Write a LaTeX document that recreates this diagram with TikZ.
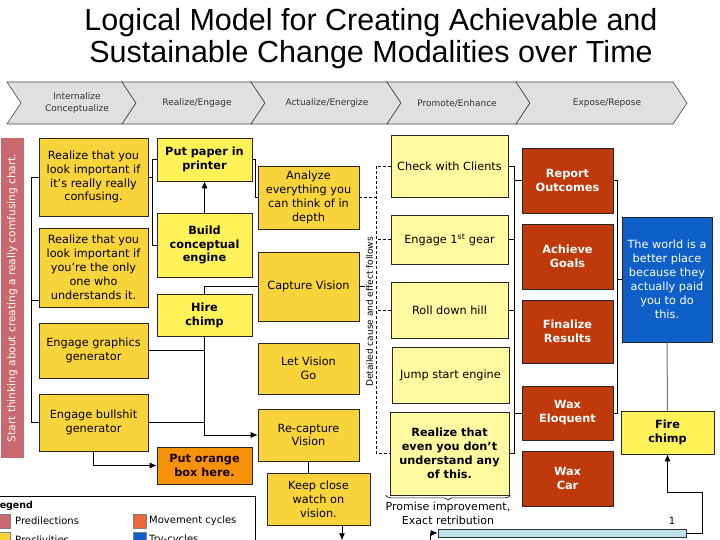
\documentclass[tikz,border=0pt]{standalone}
\usepackage{fontspec}
\setmainfont{DejaVu Sans}
\newfontfamily\titlefont{Liberation Sans}
\usetikzlibrary{arrows.meta,decorations.pathreplacing,calc}
\definecolor{gold}{RGB}{248,212,58}
\definecolor{lemon}{RGB}{254,242,88}
\definecolor{paley}{RGB}{254,250,160}
\definecolor{redbox}{RGB}{192,57,10}
\definecolor{orangebox}{RGB}{245,146,10}
\definecolor{bluebox}{RGB}{14,95,200}
\definecolor{rose}{RGB}{201,104,110}
\definecolor{movecol}{RGB}{238,102,62}
\definecolor{lightbar}{RGB}{190,226,234}
\definecolor{chevfill}{RGB}{224,224,224}
\definecolor{chevline}{RGB}{70,70,70}
\begin{document}
\begin{tikzpicture}[x=1pt,y=-1pt,
  box/.style={draw=black!85, line width=0.6pt, align=center, inner sep=1pt,
    font=\fontsize{11.3}{13.9}\selectfont},
  gbox/.style={box, fill=gold},
  lbox/.style={box, fill=lemon, font=\bfseries\fontsize{11.3}{13.9}\selectfont},
  pbox/.style={box, fill=paley},
  rbox/.style={box, fill=redbox, text=white, font=\bfseries\fontsize{11.3}{13.9}\selectfont},
  ln/.style={draw=black, line width=0.8pt},
  arr/.style={-{Latex[length=7pt,width=6pt]}},
  dsh/.style={draw=black, line width=0.7pt, dash pattern=on 3pt off 2pt},
  chev/.style={fill=chevfill, draw=chevline, line width=0.6pt},
  chevlab/.style={font=\fontsize{9}{11.5}\selectfont, align=center, text=black!80},
  sw/.style={draw=black!50, line width=0.4pt, inner sep=0},
  legtext/.style={anchor=west, inner sep=0, font=\fontsize{10}{12}\selectfont}
]
\fill[white] (0,0) rectangle (720,540);
\useasboundingbox (0,0) rectangle (720,540);

% title
\node[font=\titlefont\fontsize{30.5}{32}\selectfont, anchor=base] (t1) at (371,31) {Logical Model for Creating Achievable and};
\node[font=\titlefont\fontsize{30.5}{32}\selectfont, anchor=base] (t2) at (371,63) {Sustainable Change Modalities over Time};

% chevrons
\foreach \a/\b in {7/122,122/251,251/387,387/516,516/673}
  \draw[chev] (\a,82) -- (\b,82) -- (\b+14,103) -- (\b,124) -- (\a,124) -- (\a+14,103) -- cycle;
\node[chevlab] (h1) at (77,103) {Internalize\\Conceptualize};
\node[chevlab] (h2) at (197,103) {Realize/Engage};
\node[chevlab] (h3) at (327,103) {Actualize/Energize};
\node[chevlab] (h4) at (457,103) {Promote/Enhance};
\node[chevlab] (h5) at (607,103) {Expose/Repose};

% left bar
\node[fill=rose, minimum width=23, minimum height=320, inner sep=0] (leftbar) at (12.5,298) {};
\node[rotate=90, text=white, font=\fontsize{10.6}{12}\selectfont] (lefttext) at (leftbar.center) {Start thinking about creating a really comfusing chart.};

% column 1
\node[gbox, minimum width=109, minimum height=78] (A) at (93.5,177) {Realize that you\\look important if\\it’s really really\\confusing.};
\node[gbox, minimum width=109, minimum height=79] (B) at (93.5,267.5) {Realize that you\\look important if\\you’re the only\\one who\\understands it.};
\node[gbox, minimum width=109, minimum height=55] (C) at (93.5,350.5) {Engage graphics\\generator};
\node[gbox, minimum width=109, minimum height=57] (D) at (93.5,422.5) {Engage bullshit\\generator};

% column 2
\node[lbox, minimum width=95, minimum height=43] (paper) at (204.5,159.5) {Put paper in\\printer};
\node[lbox, minimum width=95, minimum height=64] (build) at (204.5,245) {Build\\conceptual\\engine};
\node[lbox, minimum width=95, minimum height=42] (hire) at (204.5,315) {Hire\\chimp};
\node[lbox, fill=orangebox, text=black!90!red, minimum width=95, minimum height=37] (orange) at (204.5,465.5) {Put orange\\box here.};

% column 3
\node[gbox, minimum width=101, minimum height=63] (analyze) at (308.5,197.5) {Analyze\\everything you\\can think of in\\depth};
\node[gbox, minimum width=101, minimum height=69] (capture) at (308.5,286.5) {Capture Vision};
\node[gbox, minimum width=101, minimum height=51] (letgo) at (308.5,368.5) {Let Vision\\Go};
\node[gbox, minimum width=101, minimum height=52] (recapture) at (308.5,435) {Re-capture\\Vision};
\node[gbox, minimum width=103, minimum height=52] (keep) at (318.5,499) {Keep close\\watch on\\vision.};

% column 4
\node[pbox, minimum width=117, minimum height=62] (check) at (449.5,166) {Check with Clients};
\node[pbox, minimum width=117, minimum height=49] (engage) at (449.5,239.5) {Engage 1\textsuperscript{st} gear};
\node[pbox, minimum width=117, minimum height=56] (roll) at (449.5,310) {Roll down hill};
\node[pbox, minimum width=117, minimum height=56] (jump) at (450.5,375) {Jump start engine};
\node[pbox, font=\bfseries\fontsize{11.3}{13.9}\selectfont, minimum width=119, minimum height=83] (realize2) at (449.5,453.5) {Realize that\\even you don’t\\understand any\\of this.};

% column 5
\node[rbox, minimum width=91, minimum height=65] (report) at (567.5,180.5) {Report\\Outcomes};
\node[rbox, minimum width=91, minimum height=65] (achieve) at (567.5,256.5) {Achieve\\Goals};
\node[rbox, minimum width=91, minimum height=63] (finalize) at (567.5,331.5) {Finalize\\Results};
\node[rbox, minimum width=91, minimum height=54] (waxelo) at (567.5,413) {Wax\\Eloquent};
\node[rbox, minimum width=91, minimum height=55] (waxcar) at (567.5,478.5) {Wax\\Car};

% right
\node[box, fill=bluebox, text=white, minimum width=90, minimum height=125] (blue) at (667,279.5) {The world is a\\better place\\because they\\actually paid\\you to do\\this.};
\node[lbox, minimum width=93, minimum height=43] (fire) at (667.5,432.5) {Fire\\chimp};

% bottom bar
\node[draw=black!80, line width=0.6pt, fill=lightbar, minimum width=248, minimum height=8, inner sep=0] (lbar) at (562,533) {};
\node[font=\fontsize{10}{12}\selectfont] (one) at (672,521) {1};

% connectors: left bracket
\draw[ln] (A.west) -- ++(-7,0) coordinate (lb) -- (lb |- D.west) -- (D.west);
\coordinate (bt) at (32,300);
\draw[ln] (bt) -- (bt -| B.west);
% col1 -> col2 bracket
\draw[ln] (A.east) -- ++(5,0);
\draw[ln] (paper.west) -- ++(-4,0) |- (build.west);
\draw[ln, arr] (build.north) -- (paper.south);
\draw[ln] (paper.east) -- ++(3,0) |- (analyze.west);
\draw[ln] (capture.west) -| (hire.north);
\draw[ln, arr] (hire.south) |- (recapture.west);
\draw[ln] (C.east) -- (C.east -| hire.south);
\draw[ln] (D.east) -- (D.east -| hire.south);
\draw[ln, arr] (D.south) |- (orange.west);
\draw[ln] (recapture.south) -- (recapture.south |- keep.north);
\draw[ln, arr] ([xshift=23.5]keep.south) -- ++(0,15);

% dashed bracket
\coordinate (dx) at (376,0);
\draw[dsh] (analyze.east) -- (analyze.east -| dx);
\draw[dsh] (check.west) -- (check.west -| dx) -- (realize2.west -| dx) -- (realize2.west);
\draw[dsh] (engage.west) -- (engage.west -| dx);
\draw[dsh] (roll.west) -- (roll.west -| dx);
\draw[ln] (capture.east) -- ++(6,0);
\node[rotate=90, font=\fontsize{9}{10}\selectfont] (detail) at (369.5,312) {Detailed cause and effect follows};

% col4 bracket
\coordinate (rx) at (514,0);
\draw[ln] (check.east) -- (check.east -| rx) -- (realize2.east -| rx) -- (realize2.east);
\draw[ln] (engage.east) -- (engage.east -| rx);
\draw[ln] (roll.east) -- (roll.east -| rx);
\draw[ln] (report.west -| rx) -- (report.west);
\draw[ln] (waxelo.west -| rx) -- (waxelo.west);

% col5 bracket
\coordinate (sx) at (617,0);
\draw[ln] (report.east) -- (report.east -| sx) -- (waxelo.east -| sx) -- (waxelo.east);
\draw[ln] (blue.west -| sx) -- (blue.west);

\draw[draw=black!55, line width=1pt] (blue.south) -- (fire.north);
\coordinate (f1) at (702,492);
\draw[ln, arr] (lbar.east) -| (f1) -| (fire.south);
\coordinate (lb0) at (430,548);
\draw[ln, arr] (lb0) |- (lbar.west);

% brace
\draw[line width=0.6pt, decorate, decoration={brace, mirror, amplitude=5pt}] ([xshift=-4]realize2.south west) -- ([xshift=1]realize2.south east);
\node[align=center, font=\fontsize{11}{14}\selectfont] (promise) at (448,513) {Promise improvement,\\Exact retribution};

% legend
\node[draw=black, line width=0.8pt, minimum width=260, minimum height=64, anchor=north west, inner sep=0] (legend) at (-5,496) {};
\node[anchor=base west, inner sep=0, font=\bfseries\fontsize{9.5}{11}\selectfont] (legtitle) at (-6.5,508) {Legend};
\node[sw, fill=rose, minimum width=11, minimum height=14] (s1) at (5,521) {};
\node[legtext] (l1) at (15,521) {Predilections};
\node[sw, fill=gold, minimum width=11, minimum height=14] (s2) at (5,539) {};
\node[legtext] (l2) at (15,540) {Proclivities};
\node[sw, fill=movecol, minimum width=13, minimum height=14] (s3) at (139.5,521) {};
\node[legtext] (l3) at (149,521) {Movement cycles};
\node[sw, fill=bluebox, minimum width=13, minimum height=14] (s4) at (139.5,539) {};
\node[legtext] (l4) at (149,540) {Try-cycles};
\end{tikzpicture}
\end{document}
